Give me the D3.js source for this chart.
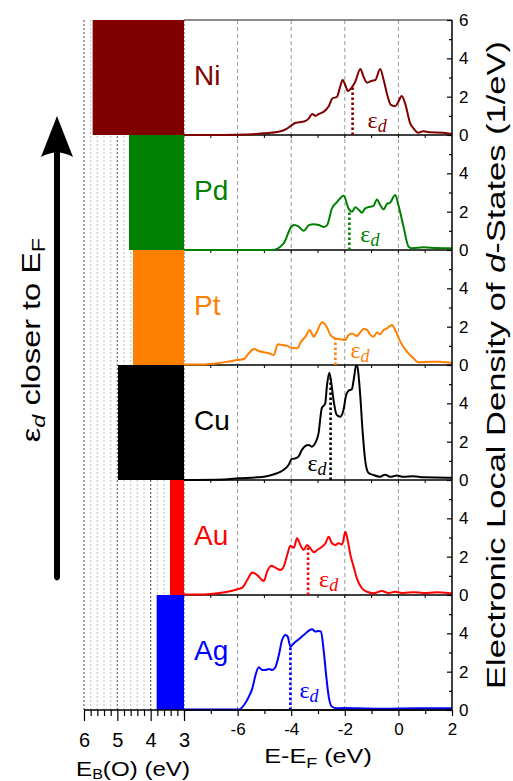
<!DOCTYPE html>
<html><head><meta charset="utf-8">
<script src="https://cdn.jsdelivr.net/npm/d3@7"></script>
<style>body{margin:0;background:#fff}svg{display:block}</style>
</head><body>
<svg id="c" width="513" height="781"></svg>
<script>
// ---------------- DATA ----------------
const metals = ["Ni","Pd","Pt","Cu","Au","Ag"];
const colors = ["#800000","#008000","#ff8000","#000000","#ff0000","#0000ff"];
const ebO = [5.74, 4.65, 4.53, 4.98, 3.42, 3.82];     // E_B(O) (eV)
const epsD = [-1.71, -1.83, -2.35, -2.53, -3.37, -4.03]; // d-band centre (eV)

const dosNi = [[-8,0],[-6.5,0],[-5.63,0.02],[-5.01,0.09],[-4.39,0.2],[-4.14,0.35],[-3.83,0.64],[-3.52,0.7],[-3.34,0.87],[-3.22,1.1],[-3.09,1.0],[-2.97,1.1],[-2.78,1.22],[-2.60,1.5],[-2.47,1.9],[-2.29,2.0],[-2.19,2.43],[-2.08,2.87],[-1.98,2.6],[-1.89,2.3],[-1.73,2.5],[-1.61,2.78],[-1.42,3.44],[-1.30,3.04],[-1.17,2.73],[-0.99,2.83],[-0.86,2.87],[-0.68,3.44],[-0.55,2.87],[-0.43,2.17],[-0.28,1.57],[-0.12,1.5],[0.0,1.74],[0.12,2.03],[0.25,1.65],[0.44,0.61],[0.56,0.35],[0.74,0.12],[0.93,0.2],[1.18,0.14],[1.67,0.12],[2,0.05]];
const dosPd = [[-8,0],[-4.71,0],[-4.28,0.35],[-4.0,1.2],[-3.90,1.3],[-3.72,1.22],[-3.53,1.0],[-3.34,1.3],[-3.16,1.35],[-2.97,1.3],[-2.79,1.2],[-2.66,1.3],[-2.48,2.17],[-2.29,2.5],[-2.04,2.83],[-1.86,2.17],[-1.73,2.0],[-1.61,2.23],[-1.48,2.1],[-1.36,1.95],[-1.24,2.17],[-1.05,2.26],[-0.93,2.3],[-0.80,2.64],[-0.68,2.35],[-0.55,2.12],[-0.43,2.4],[-0.31,2.47],[-0.12,2.87],[0.0,2.35],[0.19,1.22],[0.38,0.17],[0.5,0.09],[0.94,0.14],[1.43,0.1],[1.93,0.09],[2,0.08]];
const dosPt = [[-8,0.02],[-7.25,0.03],[-6.76,0.09],[-6.38,0.17],[-6.01,0.26],[-5.76,0.31],[-5.58,0.61],[-5.39,0.83],[-5.21,0.73],[-5.02,0.66],[-4.83,0.61],[-4.65,0.52],[-4.50,1.08],[-4.34,1.04],[-4.15,1.0],[-4.0,0.9],[-3.78,0.87],[-3.63,1.22],[-3.47,1.48],[-3.31,1.83],[-3.16,1.48],[-3.03,1.77],[-2.85,2.23],[-2.66,1.95],[-2.54,1.57],[-2.35,1.39],[-2.17,1.34],[-1.98,1.30],[-1.86,1.57],[-1.73,1.65],[-1.55,1.51],[-1.42,1.70],[-1.30,1.88],[-1.17,1.83],[-1.05,1.57],[-0.93,1.48],[-0.80,1.70],[-0.68,1.6],[-0.55,1.83],[-0.43,1.91],[-0.24,2.09],[-0.12,1.83],[0.07,1.22],[0.32,0.7],[0.56,0.35],[0.75,0.14],[1.18,0.17],[1.56,0.17],[1.93,0.12],[2,0.12]];
const dosCu = [[-8,0],[-6.5,0.03],[-5.96,0.09],[-5.28,0.14],[-4.91,0.2],[-4.53,0.35],[-4.29,0.52],[-4.10,0.78],[-3.98,1.1],[-3.85,1.13],[-3.73,1.22],[-3.60,1.57],[-3.48,1.77],[-3.35,1.83],[-3.23,1.74],[-3.11,1.91],[-2.98,2.43],[-2.86,3.74],[-2.73,4.0],[-2.67,4.87],[-2.58,5.6],[-2.52,5.22],[-2.42,4.17],[-2.30,3.39],[-2.17,3.3],[-2.05,3.65],[-1.95,4.43],[-1.86,4.66],[-1.74,4.73],[-1.65,5.39],[-1.58,5.98],[-1.53,5.9],[-1.43,4.52],[-1.33,2.43],[-1.24,1.04],[-1.12,0.38],[-0.93,0.26],[-0.68,0.17],[-0.50,0.28],[-0.31,0.17],[-0.06,0.23],[0.19,0.17],[0.56,0.2],[0.93,0.14],[1.8,0.12],[2,0.12]];
const dosAu = [[-8,0.02],[-7.25,0.03],[-6.76,0.09],[-6.38,0.17],[-6.01,0.3],[-5.83,0.38],[-5.64,0.78],[-5.45,1.18],[-5.27,1.04],[-5.02,0.73],[-4.90,1.22],[-4.75,1.53],[-4.59,1.43],[-4.40,1.30],[-4.28,1.48],[-4.15,2.09],[-4.03,2.57],[-3.90,2.47],[-3.78,2.96],[-3.66,2.61],[-3.53,2.35],[-3.41,2.61],[-3.28,2.43],[-3.16,2.23],[-3.03,2.35],[-2.85,2.52],[-2.72,2.70],[-2.60,3.04],[-2.48,2.70],[-2.35,2.61],[-2.23,2.70],[-2.10,2.64],[-1.98,3.30],[-1.92,3.04],[-1.79,2.09],[-1.67,1.48],[-1.55,0.87],[-1.36,0.35],[-1.17,0.17],[-0.93,0.09],[-0.62,0.21],[-0.37,0.1],[-0.12,0.17],[0.19,0.1],[0.56,0.15],[0.94,0.1],[1.43,0.14],[1.93,0.09],[2,0.08]];
const dosAg = [[-8,0.02],[-6.5,0.02],[-5.95,0.03],[-5.76,0.26],[-5.58,0.7],[-5.45,1.13],[-5.33,1.83],[-5.21,2.23],[-5.08,2.09],[-4.96,2.09],[-4.83,2.14],[-4.71,2.09],[-4.59,2.23],[-4.46,2.87],[-4.34,3.65],[-4.21,3.91],[-4.13,3.83],[-4.03,3.30],[-3.90,3.48],[-3.72,3.69],[-3.53,3.91],[-3.34,4.14],[-3.22,4.21],[-3.10,4.09],[-2.97,4.12],[-2.89,4.09],[-2.79,3.13],[-2.69,1.74],[-2.60,0.7],[-2.48,0.17],[-2.29,0.09],[-2.04,0.1],[-1.55,0.09],[-0.55,0.07],[0.69,0.09],[1.93,0.09],[2,0.09]];
const dos = [dosNi, dosPd, dosPt, dosCu, dosAu, dosAg];

const eMajorTicks = [-8,-6,-4,-2,0,2];
const eMinorTicks = [-7,-5,-3,-1,1];
const eGrid = [-6,-4,-2,0];
const ebMajorTicks = [6,5,4,3];
const dosMajorTicks = [0,2,4];
const dosMinorTicks = [1,3,5];

// ---------------- LAYOUT ----------------
const sans = "'Liberation Sans', Arial, sans-serif";
const serif = "'Liberation Serif', 'Times New Roman', serif";
const pTop = 20, ph = 115, n = metals.length, pBot = pTop + ph * n;
const xR = d3.scaleLinear().domain([-8, 2]).range([184, 452]);
const xL = d3.scaleLinear().domain([6, 3]).range([84, 184]);
const yP = i => d3.scaleLinear().domain([0, 6]).range([pTop + (i + 1) * ph, pTop + i * ph]);
// eps label placement: [dx from dotted line, baseline above panel bottom, anchor]
const epsLab = [[15,7,"start"],[11,8,"start"],[15,7,"start"],[-4,9,"end"],[11,8,"start"],[9,12,"start"]];

const svg = d3.select("#c");

// left panel grid (dotted verticals every 0.2 eV)
const ebGrid = d3.range(15, 31).map(k => +(k * 0.2).toFixed(1));
svg.append("g").selectAll("line").data(ebGrid).join("line")
  .attr("x1", d => xL(d)).attr("x2", d => xL(d))
  .attr("y1", pTop).attr("y2", pBot)
  .attr("stroke", d => Number.isInteger(d) ? "#666" : "#c8c8c8")
  .attr("stroke-width", 1.2)
  .attr("stroke-dasharray", "2,2");

// right panel dashed grid
svg.append("g").selectAll("line").data(eGrid).join("line")
  .attr("x1", d => xR(d)).attr("x2", d => xR(d))
  .attr("y1", pTop).attr("y2", pBot)
  .attr("stroke", "#999").attr("stroke-width", 1)
  .attr("stroke-dasharray", "4,3");

// bars E_B(O)
svg.append("g").selectAll("rect").data(metals).join("rect")
  .attr("x", (d, i) => xL(ebO[i]))
  .attr("width", (d, i) => xL(3) - xL(ebO[i]))
  .attr("y", (d, i) => pTop + i * ph)
  .attr("height", ph)
  .attr("fill", (d, i) => colors[i]);

// top frame line
svg.append("line").attr("x1", xR(-8)).attr("x2", xR(2)).attr("y1", pTop).attr("y2", pTop)
  .attr("stroke", "#666").attr("stroke-width", 1.5);

// panel separators + small ticks
for (let i = 0; i < n; i++) {
  const yb = pTop + (i + 1) * ph;
  svg.append("line").attr("x1", xR(-8)).attr("x2", xR(2)).attr("y1", yb).attr("y2", yb)
    .attr("stroke", "#000").attr("stroke-width", 1.5);
  if (i < n - 1) {
    svg.append("g").selectAll("line").data(d3.range(-7, 2)).join("line")
      .attr("x1", d => xR(d)).attr("x2", d => xR(d))
      .attr("y1", yb).attr("y2", yb + 3)
      .attr("stroke", "#000").attr("stroke-width", 1);
  }
}

// curves
dos.forEach((arr, i) => {
  const y = yP(i);
  const line = d3.line().curve(d3.curveMonotoneX).x(d => xR(d[0])).y(d => y(d[1]));
  svg.append("path")
    .attr("d", line(arr))
    .attr("fill", "none").attr("stroke", colors[i]).attr("stroke-width", 2)
    .attr("stroke-linejoin", "round");
});

// eps_d markers
function interp(arr, e) {
  for (let k = 0; k < arr.length - 1; k++) {
    if (e >= arr[k][0] && e <= arr[k + 1][0]) {
      const t = (e - arr[k][0]) / (arr[k + 1][0] - arr[k][0]);
      return arr[k][1] + t * (arr[k + 1][1] - arr[k][1]);
    }
  }
  return 0;
}
dos.forEach((arr, i) => {
  const y = yP(i), x = xR(epsD[i]);
  svg.append("line").attr("x1", x).attr("x2", x)
    .attr("y1", y(0)).attr("y2", y(interp(arr, epsD[i])))
    .attr("stroke", colors[i]).attr("stroke-width", 2.6)
    .attr("stroke-dasharray", "2.4,2.6");
  const [dx, dy, anc] = epsLab[i];
  const t = svg.append("text").attr("x", x + dx).attr("y", y(0) - dy)
    .attr("fill", colors[i]).attr("text-anchor", anc).attr("font-family", serif);
  t.append("tspan").attr("font-size", 24).text("ε");
  t.append("tspan").attr("font-size", 18).attr("font-style", "italic").attr("dy", 4).text("d");
});

// element labels
svg.append("g").selectAll("text").data(metals).join("text")
  .attr("x", 194).attr("y", (d, i) => pTop + i * ph + 65)
  .attr("fill", (d, i) => colors[i])
  .attr("font-family", sans).attr("font-size", 28)
  .text(d => d);

// right y axes
for (let i = 0; i < n; i++) {
  const y = yP(i);
  const gM = svg.append("g").attr("transform", `translate(${xR(2)},0)`)
    .call(d3.axisRight(y).tickValues(i === 0 ? [0,2,4,6] : dosMajorTicks).tickSize(-5).tickPadding(7).tickFormat(d => String(d)));
  gM.select(".domain").remove();
  gM.attr("font-size", 17);
  const gm = svg.append("g").attr("transform", `translate(${xR(2)},0)`)
    .call(d3.axisRight(y).tickValues(dosMinorTicks).tickSize(-3).tickFormat(""));
  gm.select(".domain").remove();
}
svg.append("line").attr("x1", xR(2)).attr("x2", xR(2)).attr("y1", pTop).attr("y2", pBot)
  .attr("stroke", "#000").attr("stroke-width", 1.5);

// bottom axes
const gxR = svg.append("g").attr("transform", `translate(0,${pBot})`)
  .call(d3.axisBottom(xR).tickValues(eMajorTicks).tickSize(6).tickPadding(7).tickFormat(d => d === -8 ? "" : String(d)));
gxR.select(".domain").remove();
gxR.attr("font-size", 17);
const gxRm = svg.append("g").attr("transform", `translate(0,${pBot})`)
  .call(d3.axisBottom(xR).tickValues(eMinorTicks).tickSize(4).tickFormat(""));
gxRm.select(".domain").remove();

const gxL = svg.append("g").attr("transform", `translate(0,${pBot})`)
  .call(d3.axisBottom(xL).tickValues(ebMajorTicks).tickSize(11).tickPadding(12).tickFormat(d => String(d)));
gxL.select(".domain").remove();
gxL.attr("font-size", 20);
const gxLm = svg.append("g").attr("transform", `translate(0,${pBot})`)
  .call(d3.axisBottom(xL).tickValues(ebGrid.filter(d => !Number.isInteger(d))).tickSize(6).tickFormat(""));
gxLm.select(".domain").remove();
svg.append("line").attr("x1", xL(6)).attr("x2", xR(2)).attr("y1", pBot).attr("y2", pBot)
  .attr("stroke", "#000").attr("stroke-width", 1.5);

svg.selectAll(".tick line").attr("stroke", "#000").attr("stroke-width", 1.2);
svg.selectAll(".tick text").attr("fill", "#000");
svg.selectAll("g").attr("font-family", sans);

// arrow
svg.append("path")
  .attr("d", "M54,150 L54,578 Q57,583 60,578 L60,150 Z")
  .attr("fill", "#000");
svg.append("path")
  .attr("d", "M57,116 L73,157 Q57,148 41,157 Z")
  .attr("fill", "#000");

// left rotated label (glyphs stretched along the text as in the original)
{
  const t = svg.append("text").attr("font-family", sans).attr("font-size", 25)
    .attr("text-anchor", "middle").attr("fill", "#000")
    .attr("transform", "translate(40,340) rotate(-90) scale(1.3,1)");
  t.append("tspan").text("ε");
  t.append("tspan").attr("font-size", 18).attr("font-style", "italic").attr("dy", 5).text("d");
  t.append("tspan").attr("dy", -5).text(" closer to E");
  t.append("tspan").attr("font-size", 18).attr("dy", 5).text("F");
}
// right rotated label
{
  const t = svg.append("text").attr("font-family", sans).attr("font-size", 25)
    .attr("text-anchor", "middle").attr("fill", "#000")
    .attr("transform", "translate(505,365) rotate(-90) scale(1.38,1)");
  t.append("tspan").text("Electronic Local Density of ");
  t.append("tspan").attr("font-style", "italic").text("d");
  t.append("tspan").text("-States (1/eV)");
}
// bottom titles
{
  const t = svg.append("text").attr("font-family", sans).attr("font-size", 21)
    .attr("text-anchor", "middle").attr("fill", "#000")
    .attr("transform", "translate(318,763) scale(1.2,1)");
  t.append("tspan").text("E-E");
  t.append("tspan").attr("font-size", 15).attr("dy", 5).text("F");
  t.append("tspan").attr("dy", -5).text(" (eV)");
}
{
  const t = svg.append("text").attr("font-family", sans).attr("font-size", 21)
    .attr("text-anchor", "middle").attr("fill", "#000")
    .attr("transform", "translate(133,776) scale(1.15,1)");
  t.append("tspan").text("E");
  t.append("tspan").attr("font-size", 14).attr("dy", 3).text("B");
  t.append("tspan").attr("dy", -3).text("(O) (eV)");
}
</script>
</body></html>
